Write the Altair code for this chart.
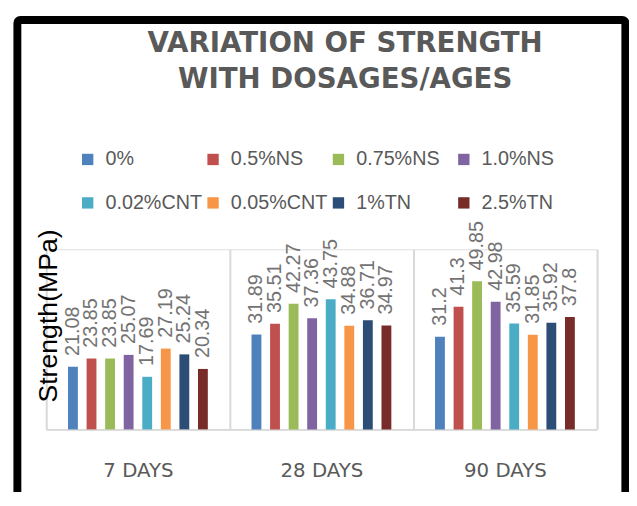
import altair as alt
import pandas as pd

ages = ["7 DAYS", "28 DAYS", "90 DAYS"]
series = ["0%", "0.5%NS", "0.75%NS", "1.0%NS", "0.02%CNT", "0.05%CNT", "1%TN", "2.5%TN"]
colors = ["#4F81BD", "#C0504D", "#9BBB59", "#8064A2", "#4BACC6", "#F79646", "#2C4D75", "#772C2A"]
strength_7 = [21.08, 23.85, 23.85, 25.07, 17.69, 27.19, 25.24, 20.34]
strength_28 = [31.89, 35.51, 42.27, 37.36, 43.75, 34.88, 36.71, 34.97]
strength_90 = [31.2, 41.3, 49.85, 42.98, 35.59, 31.85, 35.92, 37.8]

rows = []
for age, vals in zip(ages, [strength_7, strength_28, strength_90]):
    for s, v in zip(series, vals):
        rows.append({"age": age, "series": s, "value": v})
df = pd.DataFrame(rows)

x_enc = alt.X("age:N", sort=ages, scale=alt.Scale(paddingInner=0, paddingOuter=0),
              axis=alt.Axis(title=None, labelAngle=0, labelFont="DejaVu Sans", labelFontSize=20,
                            labelColor="#595959", labelBaseline="alphabetic", labelPadding=48,
                            ticks=False, domain=True, domainColor="#d9d9d9", domainWidth=2,
                            grid=True, gridColor="#d9d9d9", gridWidth=2, tickBand="extent"))
xo_scale = alt.Scale(paddingInner=0.47, paddingOuter=0, range=[22.1, 163.7])
xo_enc = alt.XOffset("series:N", sort=series, scale=xo_scale)
y_enc = alt.Y("value:Q", scale=alt.Scale(domain=[0, 60.6], nice=False, zero=True),
              axis=alt.Axis(labels=False, ticks=False, domain=False, grid=False,
                            title="Strength(MPa)", titleFont="Liberation Sans", titleFontSize=27,
                            titleFontWeight="normal", titleColor="#000000", titleAngle=270,
                            titleX=10, titleY=67, titleAlign="center", titleBaseline="alphabetic"))
color_enc = alt.Color("series:N", sort=series,
                      scale=alt.Scale(domain=series, range=colors),
                      legend=alt.Legend(orient="none", legendX=32, legendY=-101, direction="horizontal",
                                        columns=4, title=None, symbolType="square", symbolSize=132,
                                        symbolStrokeWidth=0, labelFont="Liberation Sans", labelFontSize=20,
                                        labelColor="#595959", labelOffset=8, columnPadding=1,
                                        rowPadding=24, gridAlign="all", padding=0, labelLimit=200))

bars = alt.Chart(df).mark_bar().encode(x=x_enc, xOffset=xo_enc, y=y_enc, color=color_enc)
labels = alt.Chart(df).mark_text(angle=270, align="left", baseline="middle", dx=11,
                                 font="Liberation Sans", fontSize=20, color="#737373").encode(
    x=alt.X("age:N", sort=ages), xOffset=alt.XOffset("series:N", sort=series, scale=xo_scale),
    y="value:Q", text=alt.Text("value:Q"))

border = alt.Chart(alt.Data(values=[{"b": 1}])).mark_rect(
    filled=False, stroke="#000000", strokeWidth=8, cornerRadius=3).encode(
    x=alt.value(-29.2), x2=alt.value(586.6), y=alt.value(-232.3), y2=alt.value(275))

chart = alt.layer(bars, labels, border).properties(
    width=557.6, height=182.4,
    title=alt.TitleParams(text=["VARIATION OF STRENGTH", "WITH DOSAGES/AGES"], font="DejaVu Sans",
                          fontSize=28, fontWeight="bold", color="#595959", lineHeight=37,
                          anchor="middle", dx=24, dy=89, offset=10),
    autosize=alt.AutoSizeParams(type="none"),
    padding={"left": 38.7, "top": 241.3, "right": 32.7, "bottom": 60},
).configure_view(stroke=None).configure(background="white")

chart.save("out.html", embed_options={"renderer": "svg", "actions": False})
